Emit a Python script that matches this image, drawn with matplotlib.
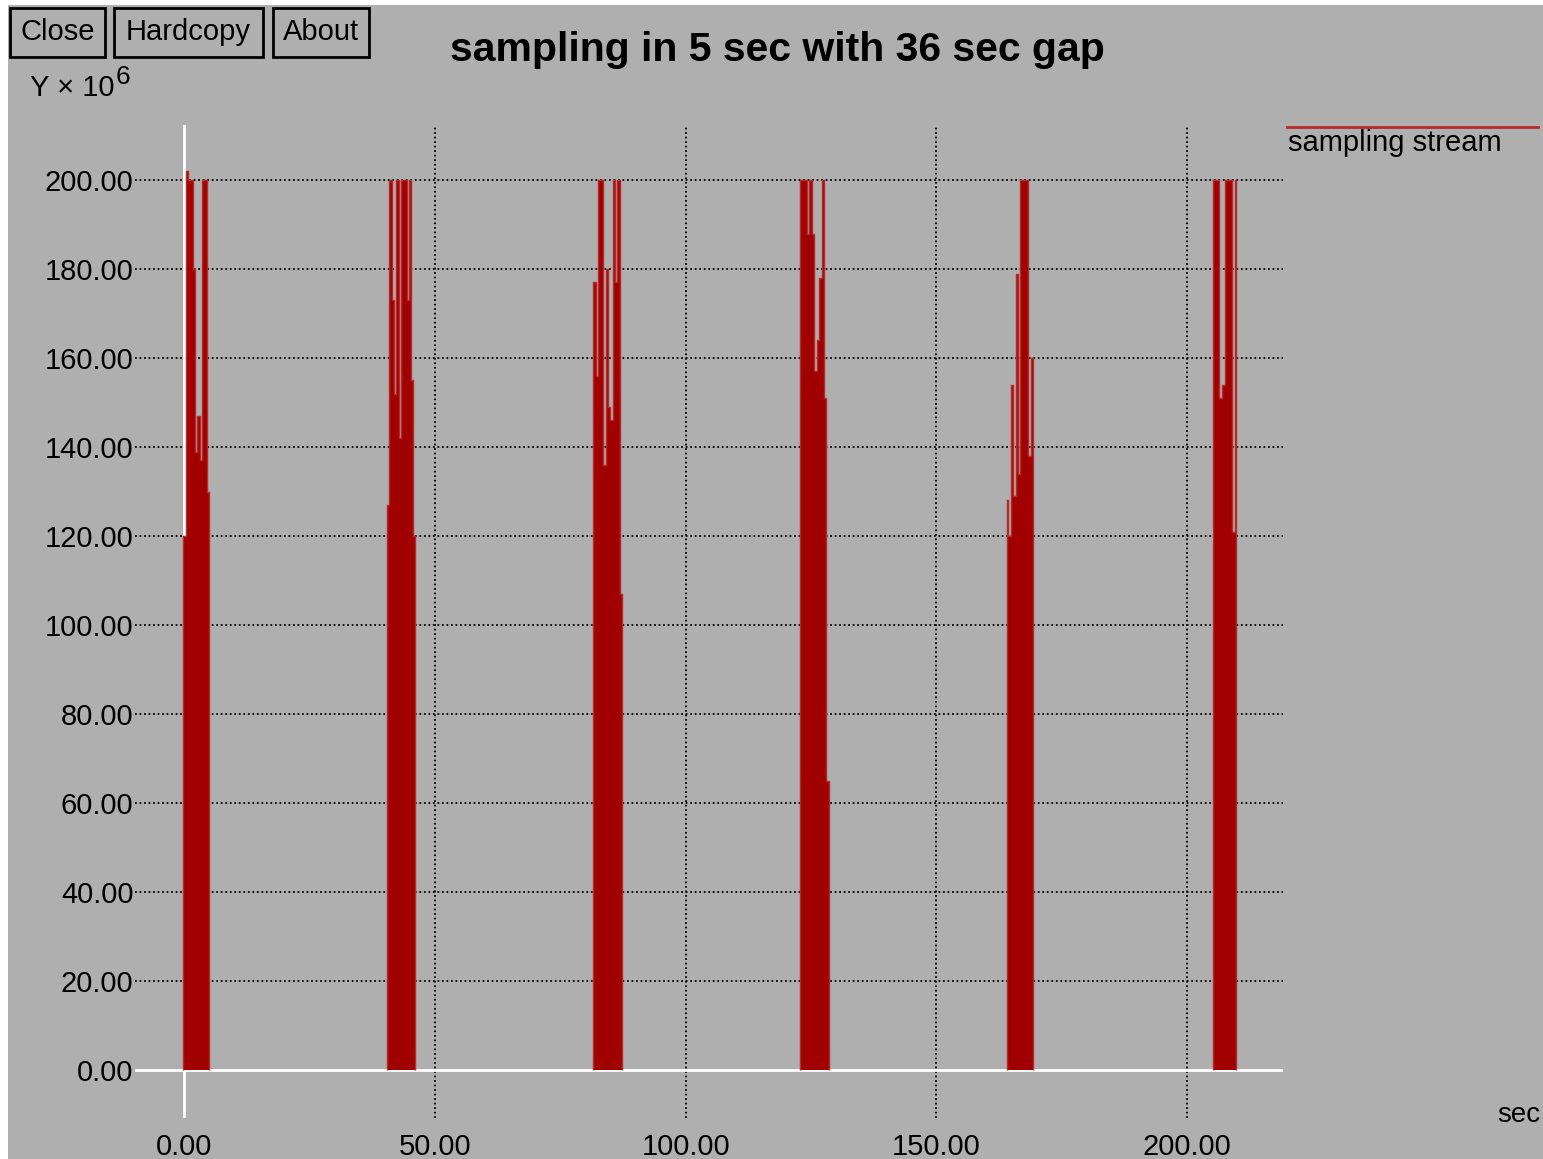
import matplotlib
matplotlib.use("Agg")
import matplotlib.pyplot as plt
from matplotlib.patches import Rectangle
from matplotlib.lines import Line2D

W, H = 1543, 1159
BG = '#afafaf'
RED = '#a00000'
EDGE = '#b52a2a'

plt.rcParams['font.family'] = ['Liberation Sans', 'DejaVu Sans']

burst1_t = [-0.15, 0.34, 0.74, 1.73, 2.19, 2.59, 3.19, 3.59, 4.59, 5.04]
burst1_y = [120, 202, 200, 180, 139, 147, 137, 200, 130]
burst2_t = [40.54, 40.94, 41.42, 41.94, 42.34, 42.82, 43.22, 44.41, 44.81, 45.21, 45.61, 46.07]
burst2_y = [127, 200, 173, 152, 200, 142, 200, 173, 200, 155, 120]
burst3_t = [81.61, 82.09, 82.61, 83.61, 84.09, 84.49, 84.95, 85.48, 85.94, 86.40, 86.94, 87.40]
burst3_y = [177, 156, 200, 136, 180, 149, 146, 200, 177, 200, 107]
burst4_t = [122.83, 124.17, 124.69, 125.17, 125.68, 126.16, 126.68, 127.16, 127.62, 128.02, 128.61]
burst4_y = [200, 188, 200, 188, 157, 164, 178, 200, 151, 65]
burst5_t = [164.05, 164.25, 164.91, 165.25, 165.84, 166.24, 166.70, 168.35, 168.83, 169.23]
burst5_y = [128, 120, 154, 129, 179, 134, 200, 138, 160]
burst6_t = [205.12, 206.44, 206.92, 207.58, 208.92, 209.44, 209.77]
burst6_y = [200, 151, 154, 200, 121, 200]

bursts = [(burst1_t, burst1_y), (burst2_t, burst2_y), (burst3_t, burst3_y),
          (burst4_t, burst4_y), (burst5_t, burst5_y), (burst6_t, burst6_y)]

x_ticks = [0, 50, 100, 150, 200]
y_ticks = [0, 20, 40, 60, 80, 100, 120, 140, 160, 180, 200]


def fx(px):
    return px / W


def fy(py):
    return 1 - py / H


fig = plt.figure(figsize=(W / 100, H / 100), dpi=100, facecolor='white')
# grey window area (screen dump has a thin white strip at left and top)
fig.add_artist(Rectangle((fx(8), 0), 1 - fx(8), fy(5), transform=fig.transFigure,
                         color=BG, lw=0, zorder=0))

ax = fig.add_axes([fx(135), fy(1118), fx(1283) - fx(135), fy(125) - fy(1118)])
ax.set_facecolor(BG)
for s in ax.spines.values():
    s.set_visible(False)

ax.set_xlim(-9.77, 219.1)
ax.set_ylim(-10.8, 212.4)

# dotted grid
for xt in x_ticks[1:]:
    ax.axvline(xt, color='black', lw=1.3, ls=(0, (1, 1.5)), zorder=1)
for yt in y_ticks[1:]:
    ax.axhline(yt, color='black', lw=1.3, ls=(0, (1, 1.5)), zorder=1)

# white axis lines
ax.axhline(0, color='white', lw=2, zorder=2)
ax.axvline(0, color='white', lw=2, zorder=2)

for t, y in bursts:
    yy = list(y) + [y[-1]]
    ax.fill_between(t, 0, yy, step='post', color=RED, lw=0, zorder=3)
    ax.step(t, yy, where='post', color=EDGE, lw=1.0, zorder=4)
    ax.vlines([t[0], t[-1]], 0, [y[0], y[-1]], color=EDGE, lw=1.0, zorder=4)

ax.set_xticks(x_ticks)
ax.set_xticklabels([f'{v:.2f}' for v in x_ticks])
ax.set_yticks(y_ticks)
ax.set_yticklabels([f'{v:.2f}' for v in y_ticks])
ax.tick_params(length=0, labelsize=21, colors='black')
ax.tick_params(axis='y', pad=1)
ax.tick_params(axis='x', pad=11)

fig.text(fx(777), fy(50), 'sampling in 5 sec with 36 sec gap', fontsize=29.5,
         fontweight='bold', ha='center', va='center')

# buttons
for label, x0, x1 in [('Close', 10, 105), ('Hardcopy', 114, 263), ('About', 273, 369)]:
    fig.add_artist(Rectangle((fx(x0), fy(57)), fx(x1) - fx(x0), fy(8) - fy(57),
                             transform=fig.transFigure, fill=False, ec='black', lw=2))
    fig.text(fx((x0 + x1) / 2), fy(32), label, fontsize=21, ha='center', va='center')

fig.text(fx(30), fy(88), 'Y \u00d7 10', fontsize=21, ha='left', va='center')
fig.text(fx(116), fy(77), '6', fontsize=19, ha='left', va='center')
fig.text(fx(1540), fy(1115), 'sec', fontsize=20, ha='right', va='center')

# legend
fig.add_artist(Line2D([fx(1287), fx(1538)], [fy(127), fy(127)], color=EDGE, lw=2))
fig.text(fx(1288), fy(143), 'sampling stream', fontsize=21, ha='left', va='center')

plt.savefig('out.png', dpi=100, facecolor='white')
